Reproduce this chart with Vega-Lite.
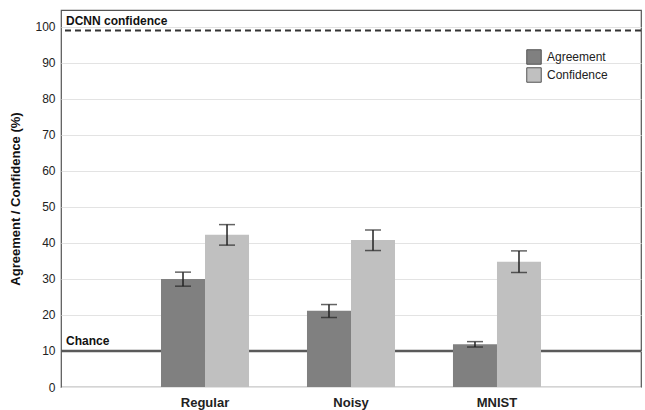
{
  "$schema": "https://vega.github.io/schema/vega-lite/v6.json",
  "width": 580,
  "height": 377,
  "autosize": "none",
  "padding": {"left": 61, "top": 10, "right": 4, "bottom": 23},
  "background": "white",
  "config": {
    "font": "Liberation Sans",
    "view": {"stroke": "#555555", "strokeWidth": 1.2},
    "axis": {"labelFont": "Liberation Sans", "titleFont": "Liberation Sans", "labelColor": "#222222", "titleColor": "#111111"},
    "axisY": {"tickCount": 11, "values": [0,10,20,30,40,50,60,70,80,90,100], "labelOverlap": false}
  },
  "datasets": {
    "bars": [
      {"cat": "Regular", "measure": "Agreement", "value": 30.0, "lo": 28.0, "hi": 31.9},
      {"cat": "Regular", "measure": "Confidence", "value": 42.3, "lo": 39.4, "hi": 45.1},
      {"cat": "Noisy", "measure": "Agreement", "value": 21.2, "lo": 19.3, "hi": 22.9},
      {"cat": "Noisy", "measure": "Confidence", "value": 40.8, "lo": 37.9, "hi": 43.6},
      {"cat": "MNIST", "measure": "Agreement", "value": 11.9, "lo": 11.1, "hi": 12.6},
      {"cat": "MNIST", "measure": "Confidence", "value": 34.8, "lo": 31.8, "hi": 37.8}
    ],
    "lines": [
      {"name": "DCNN confidence", "y": 99, "label": "DCNN confidence"},
      {"name": "Chance", "y": 10, "label": "Chance"}
    ]
  },
  "layer": [
    {
      "data": {"name": "lines"},
      "mark": {"type": "rule"},
      "encoding": {
        "y": {
          "field": "y", "type": "quantitative",
          "scale": {"domain": [0, 104.7], "nice": false},
          "axis": {"title": "Agreement / Confidence (%)", "titleFontSize": 13, "titleFontWeight": "bold", "titlePadding": 12, "tickCount": 11, "values": [0,10,20,30,40,50,60,70,80,90,100], "labelOverlap": false, "labelFontSize": 12, "ticks": false, "labelPadding": 6, "domain": false, "gridColor": "#e3e3e3", "gridWidth": 1}
        },
        "strokeDash": {"field": "name", "type": "nominal", "scale": {"domain": ["DCNN confidence", "Chance"], "range": [[6, 4], [1, 0]]}, "legend": null},
        "stroke": {"field": "name", "type": "nominal", "scale": {"domain": ["DCNN confidence", "Chance"], "range": ["#333333", "#5a5a5a"]}, "legend": null},
        "strokeWidth": {"field": "name", "type": "nominal", "scale": {"domain": ["DCNN confidence", "Chance"], "range": [2, 2.5]}, "legend": null}
      }
    },
    {
      "data": {"name": "bars"},
      "mark": {"type": "bar"},
      "encoding": {
        "x": {
          "field": "cat", "type": "nominal", "sort": ["Regular", "Noisy", "MNIST"],
          "scale": {"paddingInner": 0.397, "paddingOuter": 0.685},
          "axis": {"title": null, "labelAngle": 0, "labelFontWeight": "bold", "labelFontSize": 13, "labelPadding": 9, "ticks": false, "domain": false}
        },
        "xOffset": {"field": "measure", "type": "nominal", "scale": {"paddingInner": 0, "paddingOuter": 0}},
        "y": {"field": "value", "type": "quantitative"},
        "color": {
          "field": "measure", "type": "nominal",
          "scale": {"domain": ["Agreement", "Confidence"], "range": ["#808080", "#c0c0c0"]},
          "legend": {"title": null, "orient": "none", "legendX": 465, "legendY": 39, "symbolType": "square", "symbolSize": 210, "symbolStrokeColor": "#555555", "symbolStrokeWidth": 1, "labelFontSize": 12, "labelColor": "#222222", "rowPadding": -3, "labelOffset": 5}
        }
      }
    },
    {
      "data": {"name": "lines"},
      "mark": {"type": "text", "align": "left", "baseline": "bottom", "dx": 5, "dy": -3, "fontWeight": "bold", "fontSize": 12, "color": "#111111"},
      "encoding": {
        "x": {"value": 0},
        "y": {"field": "y", "type": "quantitative"},
        "text": {"field": "label"}
      }
    },
    {
      "data": {"name": "bars"},
      "mark": {"type": "rule", "color": "#222222", "strokeWidth": 1.5},
      "encoding": {
        "x": {"field": "cat", "type": "nominal", "sort": ["Regular", "Noisy", "MNIST"]},
        "xOffset": {"field": "measure", "type": "nominal"},
        "y": {"field": "lo", "type": "quantitative"},
        "y2": {"field": "hi"}
      }
    },
    {
      "data": {"name": "bars"},
      "mark": {"type": "tick", "color": "#222222", "thickness": 1.5, "size": 16, "orient": "horizontal"},
      "encoding": {
        "x": {"field": "cat", "type": "nominal", "sort": ["Regular", "Noisy", "MNIST"]},
        "xOffset": {"field": "measure", "type": "nominal"},
        "y": {"field": "lo", "type": "quantitative"}
      }
    },
    {
      "data": {"name": "bars"},
      "mark": {"type": "tick", "color": "#222222", "thickness": 1.5, "size": 16, "orient": "horizontal"},
      "encoding": {
        "x": {"field": "cat", "type": "nominal", "sort": ["Regular", "Noisy", "MNIST"]},
        "xOffset": {"field": "measure", "type": "nominal"},
        "y": {"field": "hi", "type": "quantitative"}
      }
    }
  ]
}
